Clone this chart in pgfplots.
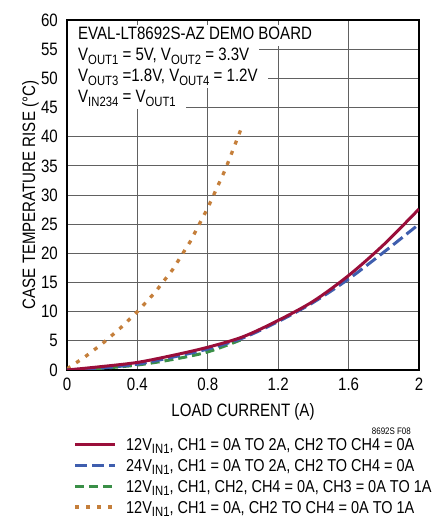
\documentclass[border=0pt]{standalone}
\usepackage{fontspec}
\setmainfont{Liberation Sans}[FakeStretch=0.84]
\usepackage{pgfplots}
\pgfplotsset{compat=1.18}

\definecolor{ltred}{HTML}{9A0E3A}
\definecolor{ltblue}{HTML}{3F5EAE}
\definecolor{ltgreen}{HTML}{3A8F47}
\definecolor{ltorange}{HTML}{C57F3B}

\newcommand{\sub}[1]{\raisebox{-0.35ex}{\fontsize{13.5}{13.5}\selectfont #1}}

\tikzset{
  redline/.style={ltred, line width=3bp},
  blueline/.style={ltblue, line width=3bp, dash pattern=on 12bp off 5bp},
  greenline/.style={ltgreen, line width=3bp, dash pattern=on 9bp off 5bp},
  orangeline/.style={ltorange, line width=3.3bp, dash pattern=on 4bp off 7bp},
  legtext/.style={anchor=base west, inner sep=0pt, font=\fontsize{17.3}{20}\selectfont},
}

\begin{document}
\fontsize{18}{21}\selectfont
\begin{tikzpicture}
\useasboundingbox (-67bp,-149bp) rectangle (365bp,370bp);
\begin{axis}[
    scale only axis,
    width=352bp, height=350bp,
    xmin=0, xmax=2, ymin=0, ymax=60,
    xtick={0,0.4,0.8,1.2,1.6,2},
    xticklabels={0,0.4,0.8,1.2,1.6,2},
    ytick={0,5,...,60},
    grid=major,
    major grid style={black!62, line width=1bp},
    axis line style={black, line width=1.3bp},
    tick style={draw=none},
    ticklabel style={font=\fontsize{18}{18}\selectfont},
    /pgf/number format/assume math mode=true,
    xticklabel style={yshift=-2bp},
    yticklabel style={xshift=-3bp},
    clip=true,
]
% 12V CH3 only (orange)
\addplot[orangeline] coordinates {
  (0,0.2) (0.1,2.2) (0.2,4.5) (0.3,7.1) (0.4,10.0) (0.5,13.3)
  (0.6,17.2) (0.7,22.0) (0.8,27.8) (0.9,34.4) (0.99,41.4)
};
% 12V CH3 0-1A (green)
\addplot[greenline, smooth] coordinates {
  (0,0) (0.2,0.3) (0.4,0.85) (0.6,1.8) (0.8,3.1) (1.0,5.3)
};
% 24V (blue)
\addplot[blueline, smooth] coordinates {
  (0,0) (0.2,0.35) (0.4,1.0) (0.6,2.2) (0.8,3.6) (1.0,5.5)
  (1.2,8.3) (1.4,11.6) (1.6,15.6) (1.8,20.2) (2.0,25.0)
};
% 12V CH1 (red)
\addplot[redline, smooth] coordinates {
  (0,0) (0.2,0.6) (0.4,1.3) (0.6,2.5) (0.8,3.9) (1.0,5.7)
  (1.2,8.5) (1.4,11.8) (1.6,16.2) (1.8,21.5) (2.0,27.6)
};
\end{axis}

% annotation box
\begin{scope}[every node/.style={anchor=base west, fill=white, inner xsep=10bp, inner ysep=0pt, text height=15bp, text depth=6bp}]
\node at (1bp,330bp) {EVAL-LT8692S-AZ DEMO BOARD\hspace{12bp}};
\node at (1bp,309bp) {V\sub{OUT1} = 5V, V\sub{OUT2} = 3.3V};
\node at (1bp,288bp) {V\sub{OUT3} =1.8V, V\sub{OUT4} = 1.2V};
\node at (1bp,267bp) {V\sub{IN234} = V\sub{OUT1}};
\end{scope}

% axis titles
\node[rotate=90, anchor=base] at (-32bp,175bp) {CASE TEMPERATURE RISE (°C)};
\node[anchor=base] at (176bp,-46bp) {LOAD CURRENT (A)};
\node[anchor=base east, font=\fontsize{9.5}{10}\selectfont] at (350bp,-64bp) {8692S F08};

% legend
\draw[redline] (8bp,-74bp) -- (48bp,-74bp);
\node[legtext] at (59bp,-80bp) {12V\sub{IN1}, CH1 = 0A TO 2A, CH2 TO CH4 = 0A};
\draw[blueline] (8bp,-95bp) -- (48bp,-95bp);
\node[legtext] at (59bp,-101bp) {24V\sub{IN1}, CH1 = 0A TO 2A, CH2 TO CH4 = 0A};
\draw[greenline] (8bp,-116bp) -- (48bp,-116bp);
\node[legtext] at (59bp,-122bp) {12V\sub{IN1}, CH1, CH2, CH4 = 0A, CH3 = 0A TO 1A};
\draw[orangeline] (8bp,-137bp) -- (48bp,-137bp);
\node[legtext] at (59bp,-143bp) {12V\sub{IN1}, CH1 = 0A, CH2 TO CH4 = 0A TO 1A};
\end{tikzpicture}
\end{document}
